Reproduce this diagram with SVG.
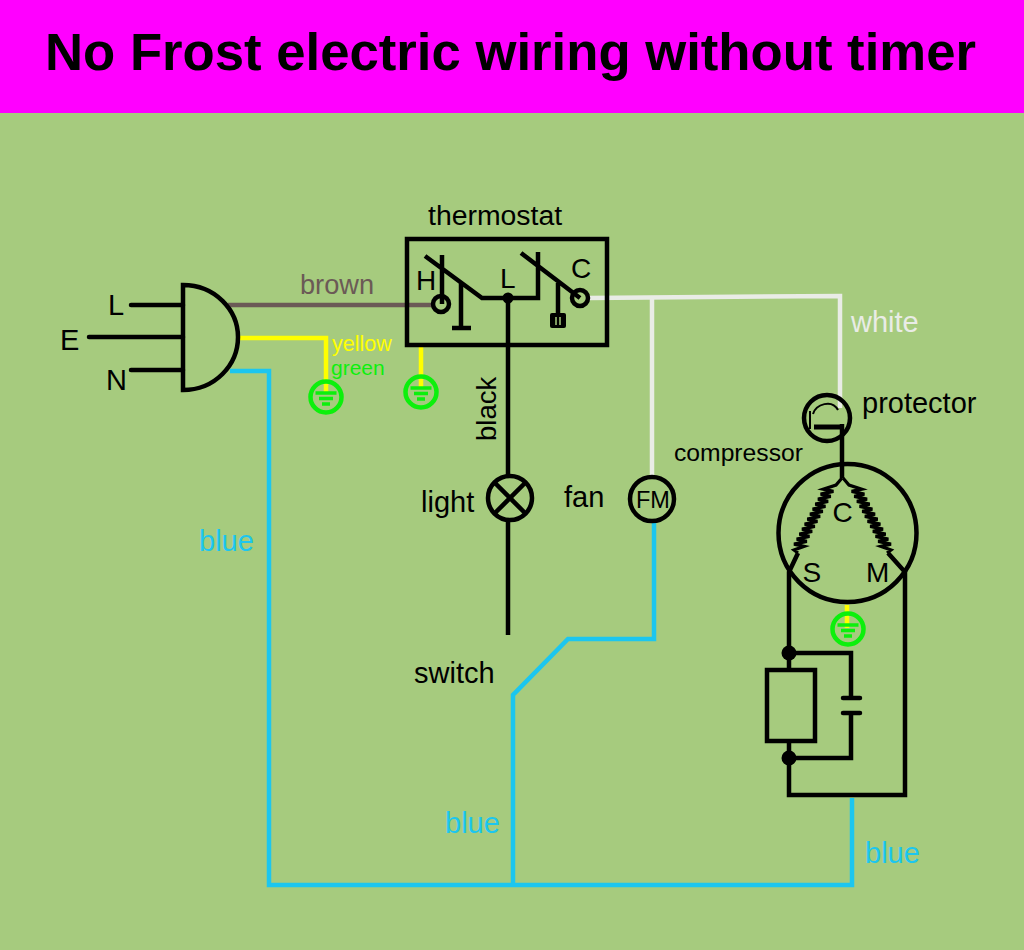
<svg xmlns="http://www.w3.org/2000/svg" xmlns:xlink="http://www.w3.org/1999/xlink" width="1024" height="950" viewBox="0 0 1024 950">
<style>
text{font-family:"Liberation Sans",Arial,sans-serif;font-size:29px;fill:#000}
.k{fill:none;stroke:#000;stroke-width:4.5;stroke-linejoin:miter}
.r{stroke-linecap:round}
.f{fill:#000;stroke:none}
.blue{fill:none;stroke:#1cc6ef;stroke-width:4.5}
.white{fill:none;stroke:#e9ece6;stroke-width:4.5}
.yel{fill:none;stroke:#ffff00;stroke-width:4.5}
.brn{fill:none;stroke:#6b5a56;stroke-width:4.5}
.gc{fill:none;stroke:#0cf00c;stroke-width:4.5}
.gb{stroke:#0cf00c;stroke-width:3.5}
.in{font-size:28px}
</style>
<defs>
<polyline id="coil" fill="none" stroke="#000" stroke-width="3.200" points="842,478 836,485 823.27,489.15 833.4,491.35 820.61,494.15 830.74,496.35 817.95,499.15 828.08,501.35 815.29,504.15 825.42,506.35 812.63,509.15 822.76,511.35 809.97,514.15 820.1,516.35 807.31,519.15 817.44,521.35 804.65,524.15 814.78,526.35 801.99,529.15 812.12,531.35 799.33,534.15 809.46,536.35 796.67,539.15 806.8,541.35 794.01,544.15 804.14,546.35 794,550 798,553"/>
<g id="gnd">
<circle r="15.500" class="gc"/>
<path class="gb" d="M-10.500,-4H10.500M-7,1.500H7M-4,7H4"/>
</g>
</defs>
<rect width="1024" height="950" fill="#a6cb7e"/>
<rect id="header" width="1024" height="113" fill="#ff00ff"/>
<text id="title" x="510.500" y="70" text-anchor="middle" style="font-size:52.700px;font-weight:bold">No Frost electric wiring without timer</text>

<g id="connectors">
<path class="brn" d="M228,305H434"/>
<path class="yel" d="M238,338H326V392"/>
<path class="yel" d="M421,347V388"/>
<path class="yel" d="M847,605V628"/>
<path class="white" d="M588,298L840,296V408"/>
<path class="white" d="M652,298V476"/>
<path class="blue" d="M230,371H269V885H852V798"/>
<path class="blue" d="M654,523V639H568L513,695V885"/>
<path class="k" d="M508,298V635"/>
<path class="k" d="M842,424V478"/>
<path class="k" d="M798,553L789,572V795H905V572L888,553"/>
<path class="k" d="M789,653H851V698M851,713V758H789"/>
</g>

<g id="plug">
<path class="k" d="M183,285V390C215,390 238,365 238,337C238,310 215,285 183,285Z"/>
<path class="k r" d="M131,305H183M89,337H183M131,370H183"/>
<text x="108" y="315">L</text>
<text x="60" y="350">E</text>
<text x="106" y="390">N</text>
</g>

<g id="ground-1"><use href="#gnd" xlink:href="#gnd" x="326" y="397"/></g>
<g id="ground-2"><use href="#gnd" xlink:href="#gnd" x="421" y="392"/></g>
<g id="ground-3"><use href="#gnd" xlink:href="#gnd" x="848" y="629"/></g>

<g id="thermostat">
<text x="428" y="225" style="font-size:28.400px">thermostat</text>
<rect x="407" y="239" width="200" height="106" class="k"/>
<circle cx="441" cy="304" r="8" class="k"/>
<circle cx="580" cy="298" r="8" class="k"/>
<path class="k" d="M425,256L482,298H538V252M521,253L580,298M442,255V304M461,283V328M452,328H471M558,283V316"/>
<circle cx="508" cy="298" r="5.500" class="f"/>
<rect x="550" y="313" width="16" height="15" rx="2" class="f"/>
<path d="M556,317V325M560,317V325" stroke="#a6cb7e" stroke-width="1.500"/>
<text class="in" x="416" y="290">H</text>
<text class="in" x="500" y="288">L</text>
<text class="in" x="571" y="278">C</text>
</g>

<g id="light">
<circle cx="510" cy="498" r="22" class="k" style="fill:#a6cb7e"/>
<path class="k" d="M494,482L526,514M526,482L494,514"/>
<text x="421" y="512">light</text>
</g>

<g id="fan">
<circle cx="652" cy="499" r="22" class="k" style="fill:#a6cb7e"/>
<text x="636" y="508" style="font-size:23.500px">FM</text>
<text x="564" y="507">fan</text>
</g>

<g id="protector">
<circle cx="827" cy="418" r="23" class="k"/>
<path class="k" style="stroke-width:2" d="M810,411V429M813,414C816,404 832,399 838,410"/>
<path class="k" style="stroke-width:5" d="M814,427H842"/>
<text x="862" y="413">protector</text>
</g>

<g id="compressor">
<circle cx="847.500" cy="533" r="69" class="k"/>
<use href="#coil" xlink:href="#coil"/>
<use href="#coil" xlink:href="#coil" transform="matrix(-1 0 0 1 1685 0)"/>
<text class="in" x="832.500" y="522">C</text>
<text class="in" x="802.500" y="582">S</text>
<text class="in" x="866" y="582">M</text>
<text x="674" y="461" style="font-size:24.700px">compressor</text>
</g>

<g id="start-relay">
<circle cx="789" cy="653" r="7.500" class="f"/>
<circle cx="789" cy="758" r="7.500" class="f"/>
<rect x="767" y="670" width="48" height="71" class="k" style="fill:#a6cb7e"/>
</g>

<g id="capacitor">
<path class="k r" d="M843,698H860M843,713H860"/>
</g>

<g id="labels">
<text x="300" y="294" style="font-size:27.200px;fill:#6b5a56">brown</text>
<text x="332" y="351" style="font-size:21.500px;fill:#ffff00">yellow</text>
<text x="331" y="375" style="font-size:21px;fill:#0cf00c">green</text>
<text x="851" y="332" style="fill:#e9ece6">white</text>
<text transform="translate(496,441) rotate(-90)" style="font-size:27.500px">black</text>
<text x="414" y="683">switch</text>
<text x="199" y="551" style="fill:#1cc6ef">blue</text>
<text x="445" y="833" style="fill:#1cc6ef">blue</text>
<text x="865" y="863" style="fill:#1cc6ef">blue</text>
</g>
</svg>
